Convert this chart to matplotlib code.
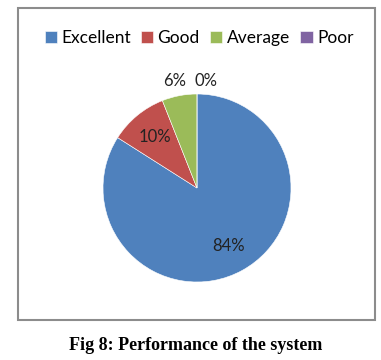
import matplotlib.pyplot as plt
from matplotlib.patches import Rectangle

labels = ['Excellent', 'Good', 'Average', 'Poor']
values = [84, 10, 6, 0]
colors = ['#4F81BD', '#C0504D', '#9BBB59', '#8064A2']

W, H = 381, 360
fig = plt.figure(figsize=(W / 100, H / 100), dpi=100)
plt.rcParams['font.family'] = ['Lato', 'DejaVu Sans']

# chart border
fig.add_artist(Rectangle((18 / W, 1 - 320 / H), 357 / W, 312 / H,
                         transform=fig.transFigure, fill=False,
                         edgecolor='#8c8c8c', linewidth=1.5))

cx, cy, r = 197, 188, 94
ax = fig.add_axes([(cx - r) / W, 1 - (cy + r) / H, 2 * r / W, 2 * r / H])
wedges, texts, autotexts = ax.pie(values, colors=colors, startangle=90,
                                  counterclock=False, autopct='%d%%',
                                  pctdistance=0.7,
                                  wedgeprops=dict(edgecolor='white', linewidth=0.4),
                                  textprops=dict(fontsize=12, color='#222222'))
ax.set_xlim(-1, 1)
ax.set_ylim(-1, 1)
ax.set_aspect('equal')
for t in autotexts:
    t.set_clip_on(False)
# small slices get their labels lifted above the pie
autotexts[2].set_position((-0.24, 1.14))
autotexts[3].set_position((0.1, 1.14))

fig.legend(wedges, labels, loc='center', bbox_to_anchor=(199 / W, 1 - 38 / H),
           ncol=4, frameon=False, fontsize=12.5, handlelength=0.7,
           handleheight=0.7, handletextpad=0.25, columnspacing=0.6)

fig.text(196 / W, 1 - 345 / H, 'Fig 8: Performance of the system',
         ha='center', va='center', fontsize=13, fontweight='bold',
         family='Liberation Serif')

plt.savefig('out.png', dpi=100)
